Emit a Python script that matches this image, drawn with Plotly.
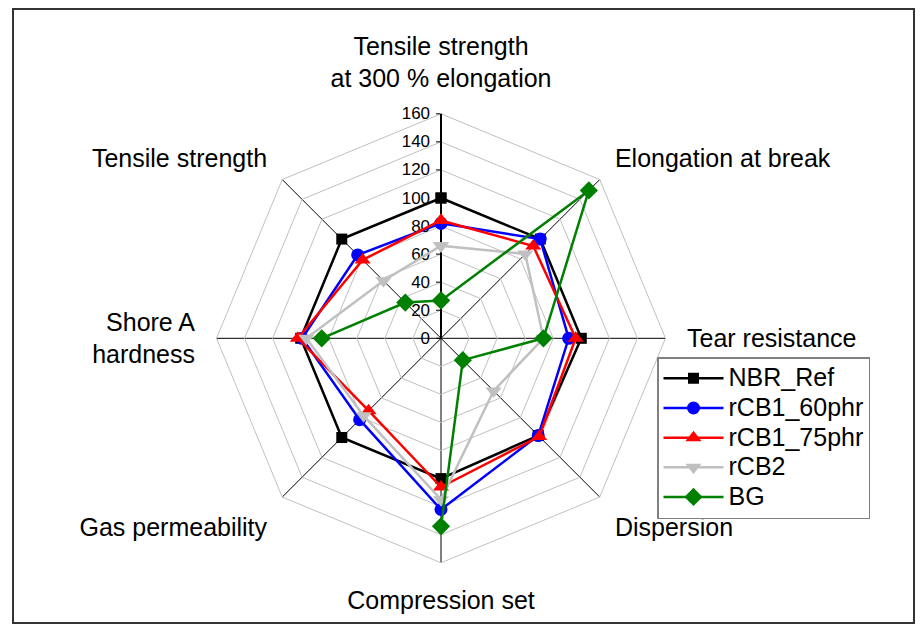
import plotly.graph_objects as go

categories = [
    "Tensile strength<br>at 300 % elongation",
    "Elongation at break",
    "Tear resistance",
    "Dispersion",
    "Compression set",
    "Gas permeability",
    "Shore A<br>hardness",
    "Tensile strength",
]

nbr_ref = [100, 100, 100, 98, 100, 100, 100, 100]
rcb1_60 = [82, 100, 91, 98, 122, 82, 99, 84]
rcb1_75 = [84, 93, 96, 99, 106, 73, 102, 79]
rcb2 = [66, 85, 73, 53, 115, 78, 96, 58]
bg = [27, 149, 73, 22, 134, None, 85, 36]

radial_ticks = [0, 20, 40, 60, 80, 100, 120, 140, 160]

series = [
    ("NBR_Ref", nbr_ref, "#000000", "square", 11),
    ("rCB1_60phr", rcb1_60, "#0000ff", "circle", 13),
    ("rCB1_75phr", rcb1_75, "#ff0000", "triangle-up", 14),
    ("rCB2", rcb2, "#c0c0c0", "triangle-down", 14),
    ("BG", bg, "#008000", "diamond", 14),
]

FONT = "Liberation Sans, Arial, sans-serif"

fig = go.Figure()
for name, vals, color, sym, size in series:
    fig.add_trace(go.Scatterpolar(
        r=vals + [vals[0]],
        theta=categories + [categories[0]],
        mode="lines+markers",
        name='<span style="font-size:25px">' + name + '</span>',
        connectgaps=False,
        line=dict(color=color, width=2.5),
        marker=dict(color=color, symbol=sym, size=size),
    ))

# page body has an 8px offset; design in figure coordinates = screen - 8
OFF = 8
W, H = 915, 623
cx, cy, R = 441 - OFF, 338.3 - OFF, 224.5

fig.update_layout(
    width=W, height=H,
    margin=dict(l=0, r=0, t=0, b=0),
    paper_bgcolor="white",
    plot_bgcolor="white",
    font=dict(family=FONT, color="black"),
    polar=dict(
        domain=dict(x=[(cx - R) / W, (cx + R) / W],
                    y=[(H - cy - R) / H, (H - cy + R) / H]),
        gridshape="linear",
        bgcolor="white",
        angularaxis=dict(
            direction="clockwise",
            rotation=90,
            type="category",
            categoryorder="array",
            categoryarray=categories,
            showline=True,
            linecolor="#c0c0c0",
            linewidth=1,
            showgrid=True,
            gridcolor="#000000",
            gridwidth=1,
            ticks="outside",
            ticklen=16,
            tickcolor="rgba(0,0,0,0)",
            tickfont=dict(size=25, family=FONT, color="black"),
            layer="below traces",
        ),
        radialaxis=dict(
            range=[0, 160],
            tickvals=radial_ticks,
            ticktext=[str(v) for v in radial_ticks],
            angle=90,
            side="counterclockwise",
            tickangle=90,
            showline=True,
            linecolor="#000000",
            linewidth=2,
            showgrid=True,
            gridcolor="#c0c0c0",
            gridwidth=1,
            ticks="outside",
            ticklen=4,
            tickcolor="#000000",
            tickfont=dict(size=17, family=FONT, color="black"),
            layer="below traces",
        ),
    ),
    legend=dict(
        x=(657 - OFF) / W, y=1 - (357 - OFF) / H,
        xanchor="left", yanchor="top",
        bgcolor="white",
        bordercolor="#808080",
        borderwidth=1.5,
        font=dict(size=20.5, family=FONT, color="black"),
        itemwidth=60,
        tracegroupgap=0,
    ),
    showlegend=True,
    shapes=[dict(
        type="rect", xref="paper", yref="paper",
        x0=(13 - OFF) / W, x1=(914 - OFF) / W,
        y0=1 - (623 - OFF) / H, y1=1 - (9 - OFF) / H,
        line=dict(color="#333333", width=2),
        fillcolor="rgba(0,0,0,0)",
    )],
)

fig.write_html("out.html")
